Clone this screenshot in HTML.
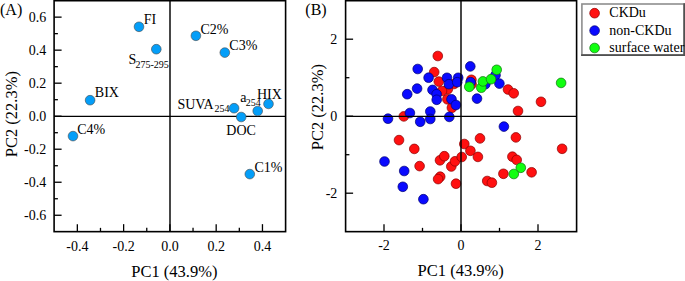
<!DOCTYPE html>
<html><head><meta charset="utf-8"><style>
html,body{margin:0;padding:0;background:#fff;width:685px;height:281px;overflow:hidden}
svg{display:block}
text{font-family:"Liberation Serif", serif;fill:#000}
</style></head><body>
<svg width="685" height="281" viewBox="0 0 685 281">
<rect x="54.1" y="0.7" width="231.50" height="230.95" fill="none" stroke="#000" stroke-width="1.6"/>
<line x1="54.10" y1="116.45" x2="285.60" y2="116.45" stroke="#000" stroke-width="1.3"/>
<line x1="170.00" y1="0.70" x2="170.00" y2="231.65" stroke="#000" stroke-width="1.45"/>
<line x1="54.10" y1="215.26" x2="61.60" y2="215.26" stroke="#000" stroke-width="1.3"/>
<line x1="54.10" y1="198.75" x2="57.90" y2="198.75" stroke="#000" stroke-width="1.3"/>
<line x1="54.10" y1="182.24" x2="61.60" y2="182.24" stroke="#000" stroke-width="1.3"/>
<line x1="54.10" y1="165.73" x2="57.90" y2="165.73" stroke="#000" stroke-width="1.3"/>
<line x1="54.10" y1="149.22" x2="61.60" y2="149.22" stroke="#000" stroke-width="1.3"/>
<line x1="54.10" y1="132.71" x2="57.90" y2="132.71" stroke="#000" stroke-width="1.3"/>
<line x1="54.10" y1="116.20" x2="61.60" y2="116.20" stroke="#000" stroke-width="1.3"/>
<line x1="54.10" y1="99.69" x2="57.90" y2="99.69" stroke="#000" stroke-width="1.3"/>
<line x1="54.10" y1="83.18" x2="61.60" y2="83.18" stroke="#000" stroke-width="1.3"/>
<line x1="54.10" y1="66.67" x2="57.90" y2="66.67" stroke="#000" stroke-width="1.3"/>
<line x1="54.10" y1="50.16" x2="61.60" y2="50.16" stroke="#000" stroke-width="1.3"/>
<line x1="54.10" y1="33.65" x2="57.90" y2="33.65" stroke="#000" stroke-width="1.3"/>
<line x1="54.10" y1="17.14" x2="61.60" y2="17.14" stroke="#000" stroke-width="1.3"/>
<line x1="77.34" y1="231.65" x2="77.34" y2="224.15" stroke="#000" stroke-width="1.3"/>
<line x1="100.48" y1="231.65" x2="100.48" y2="227.85" stroke="#000" stroke-width="1.3"/>
<line x1="123.62" y1="231.65" x2="123.62" y2="224.15" stroke="#000" stroke-width="1.3"/>
<line x1="146.76" y1="231.65" x2="146.76" y2="227.85" stroke="#000" stroke-width="1.3"/>
<line x1="169.90" y1="231.65" x2="169.90" y2="224.15" stroke="#000" stroke-width="1.3"/>
<line x1="193.04" y1="231.65" x2="193.04" y2="227.85" stroke="#000" stroke-width="1.3"/>
<line x1="216.18" y1="231.65" x2="216.18" y2="224.15" stroke="#000" stroke-width="1.3"/>
<line x1="239.32" y1="231.65" x2="239.32" y2="227.85" stroke="#000" stroke-width="1.3"/>
<line x1="262.46" y1="231.65" x2="262.46" y2="224.15" stroke="#000" stroke-width="1.3"/>
<text x="46.20" y="21.74" font-size="14" text-anchor="end" >0.6</text>
<text x="46.20" y="54.76" font-size="14" text-anchor="end" >0.4</text>
<text x="46.20" y="87.78" font-size="14" text-anchor="end" >0.2</text>
<text x="46.20" y="120.80" font-size="14" text-anchor="end" >0.0</text>
<text x="46.20" y="153.82" font-size="14" text-anchor="end" >-0.2</text>
<text x="46.20" y="186.84" font-size="14" text-anchor="end" >-0.4</text>
<text x="46.20" y="219.86" font-size="14" text-anchor="end" >-0.6</text>
<text x="77.34" y="250.80" font-size="14" text-anchor="middle" >-0.4</text>
<text x="123.62" y="250.80" font-size="14" text-anchor="middle" >-0.2</text>
<text x="169.90" y="250.80" font-size="14" text-anchor="middle" >0.0</text>
<text x="216.18" y="250.80" font-size="14" text-anchor="middle" >0.2</text>
<text x="262.46" y="250.80" font-size="14" text-anchor="middle" >0.4</text>
<circle cx="139.0" cy="26.8" r="4.85" fill="#049ef8" stroke="#4a4a4a" stroke-width="0.6"/>
<circle cx="156.3" cy="49.2" r="4.85" fill="#049ef8" stroke="#4a4a4a" stroke-width="0.6"/>
<circle cx="195.9" cy="35.8" r="4.85" fill="#049ef8" stroke="#4a4a4a" stroke-width="0.6"/>
<circle cx="224.8" cy="52.6" r="4.85" fill="#049ef8" stroke="#4a4a4a" stroke-width="0.6"/>
<circle cx="90.1" cy="100.2" r="4.85" fill="#049ef8" stroke="#4a4a4a" stroke-width="0.6"/>
<circle cx="73.0" cy="136.1" r="4.85" fill="#049ef8" stroke="#4a4a4a" stroke-width="0.6"/>
<circle cx="234.1" cy="108.2" r="4.85" fill="#049ef8" stroke="#4a4a4a" stroke-width="0.6"/>
<circle cx="241.2" cy="117.0" r="4.85" fill="#049ef8" stroke="#4a4a4a" stroke-width="0.6"/>
<circle cx="257.7" cy="111.0" r="4.85" fill="#049ef8" stroke="#4a4a4a" stroke-width="0.6"/>
<circle cx="268.5" cy="103.9" r="4.85" fill="#049ef8" stroke="#4a4a4a" stroke-width="0.6"/>
<circle cx="249.8" cy="174.1" r="4.85" fill="#049ef8" stroke="#4a4a4a" stroke-width="0.6"/>
<text x="143.80" y="24.20" font-size="14" text-anchor="start" >FI</text>
<text x="128.40" y="64.00" font-size="14" text-anchor="start" >S</text>
<text x="135.40" y="68.00" font-size="10" text-anchor="start" >275-295</text>
<text x="200.40" y="33.50" font-size="14" text-anchor="start" >C2%</text>
<text x="229.30" y="50.10" font-size="14" text-anchor="start" >C3%</text>
<text x="94.80" y="97.30" font-size="14" text-anchor="start" >BIX</text>
<text x="77.20" y="134.20" font-size="14" text-anchor="start" >C4%</text>
<text x="177.40" y="108.70" font-size="14" text-anchor="start" >SUVA</text>
<text x="214.40" y="111.80" font-size="10" text-anchor="start" >254</text>
<text x="240.20" y="102.00" font-size="14" text-anchor="start" >a</text>
<text x="245.80" y="106.00" font-size="10" text-anchor="start" >254</text>
<text x="257.00" y="98.50" font-size="14" text-anchor="start" >HIX</text>
<text x="226.30" y="135.40" font-size="14" text-anchor="start" >DOC</text>
<text x="254.40" y="171.90" font-size="14" text-anchor="start" >C1%</text>
<text x="0.00" y="14.90" font-size="16" text-anchor="start" >(A)</text>
<text x="174.40" y="277.20" font-size="16.5" text-anchor="middle" >PC1 (43.9%)</text>
<text x="0" y="0" font-size="16.5" text-anchor="middle" transform="translate(16.8,114.2) rotate(-90)">PC2 (22.3%)</text>
<circle cx="437.8" cy="56.0" r="4.85" fill="#ff1010" stroke="#8a0000" stroke-width="0.7"/>
<circle cx="434.2" cy="72.1" r="4.85" fill="#ff1010" stroke="#8a0000" stroke-width="0.7"/>
<circle cx="438.8" cy="81.6" r="4.85" fill="#ff1010" stroke="#8a0000" stroke-width="0.7"/>
<circle cx="453.9" cy="84.0" r="4.85" fill="#ff1010" stroke="#8a0000" stroke-width="0.7"/>
<circle cx="447.8" cy="89.2" r="4.85" fill="#ff1010" stroke="#8a0000" stroke-width="0.7"/>
<circle cx="442" cy="91" r="4.85" fill="#ff1010" stroke="#8a0000" stroke-width="0.7"/>
<circle cx="447.4" cy="99.3" r="4.85" fill="#ff1010" stroke="#8a0000" stroke-width="0.7"/>
<circle cx="451.9" cy="107.8" r="4.85" fill="#ff1010" stroke="#8a0000" stroke-width="0.7"/>
<circle cx="471.4" cy="79.8" r="4.85" fill="#ff1010" stroke="#8a0000" stroke-width="0.7"/>
<circle cx="471.6" cy="84.3" r="4.85" fill="#ff1010" stroke="#8a0000" stroke-width="0.7"/>
<circle cx="403.8" cy="116.4" r="4.85" fill="#ff1010" stroke="#8a0000" stroke-width="0.7"/>
<circle cx="399.0" cy="140.1" r="4.85" fill="#ff1010" stroke="#8a0000" stroke-width="0.7"/>
<circle cx="414.3" cy="148.9" r="4.85" fill="#ff1010" stroke="#8a0000" stroke-width="0.7"/>
<circle cx="419.6" cy="166.1" r="4.85" fill="#ff1010" stroke="#8a0000" stroke-width="0.7"/>
<circle cx="440.0" cy="160.3" r="4.85" fill="#ff1010" stroke="#8a0000" stroke-width="0.7"/>
<circle cx="444.3" cy="156.2" r="4.85" fill="#ff1010" stroke="#8a0000" stroke-width="0.7"/>
<circle cx="451.3" cy="166.5" r="4.85" fill="#ff1010" stroke="#8a0000" stroke-width="0.7"/>
<circle cx="455.0" cy="161.3" r="4.85" fill="#ff1010" stroke="#8a0000" stroke-width="0.7"/>
<circle cx="440.2" cy="176.7" r="4.85" fill="#ff1010" stroke="#8a0000" stroke-width="0.7"/>
<circle cx="438.1" cy="179.1" r="4.85" fill="#ff1010" stroke="#8a0000" stroke-width="0.7"/>
<circle cx="456" cy="183.7" r="4.85" fill="#ff1010" stroke="#8a0000" stroke-width="0.7"/>
<circle cx="464.3" cy="144.0" r="4.85" fill="#ff1010" stroke="#8a0000" stroke-width="0.7"/>
<circle cx="470.4" cy="150.8" r="4.85" fill="#ff1010" stroke="#8a0000" stroke-width="0.7"/>
<circle cx="461.7" cy="157" r="4.85" fill="#ff1010" stroke="#8a0000" stroke-width="0.7"/>
<circle cx="477.9" cy="156.9" r="4.85" fill="#ff1010" stroke="#8a0000" stroke-width="0.7"/>
<circle cx="480.0" cy="138.4" r="4.85" fill="#ff1010" stroke="#8a0000" stroke-width="0.7"/>
<circle cx="487.2" cy="181" r="4.85" fill="#ff1010" stroke="#8a0000" stroke-width="0.7"/>
<circle cx="491.9" cy="182.7" r="4.85" fill="#ff1010" stroke="#8a0000" stroke-width="0.7"/>
<circle cx="503.4" cy="173.8" r="4.85" fill="#ff1010" stroke="#8a0000" stroke-width="0.7"/>
<circle cx="512.4" cy="156.7" r="4.85" fill="#ff1010" stroke="#8a0000" stroke-width="0.7"/>
<circle cx="516.7" cy="159.9" r="4.85" fill="#ff1010" stroke="#8a0000" stroke-width="0.7"/>
<circle cx="531.6" cy="172.3" r="4.85" fill="#ff1010" stroke="#8a0000" stroke-width="0.7"/>
<circle cx="515.9" cy="137.4" r="4.85" fill="#ff1010" stroke="#8a0000" stroke-width="0.7"/>
<circle cx="562.1" cy="148.8" r="4.85" fill="#ff1010" stroke="#8a0000" stroke-width="0.7"/>
<circle cx="541.0" cy="101.8" r="4.85" fill="#ff1010" stroke="#8a0000" stroke-width="0.7"/>
<circle cx="518" cy="111" r="4.85" fill="#ff1010" stroke="#8a0000" stroke-width="0.7"/>
<circle cx="508" cy="89.5" r="4.85" fill="#ff1010" stroke="#8a0000" stroke-width="0.7"/>
<circle cx="513.7" cy="93.3" r="4.85" fill="#ff1010" stroke="#8a0000" stroke-width="0.7"/>
<circle cx="470.3" cy="66.4" r="4.85" fill="#0a0aff" stroke="#000070" stroke-width="0.7"/>
<circle cx="417.7" cy="69.0" r="4.85" fill="#0a0aff" stroke="#000070" stroke-width="0.7"/>
<circle cx="428.6" cy="77.7" r="4.85" fill="#0a0aff" stroke="#000070" stroke-width="0.7"/>
<circle cx="447.0" cy="77.8" r="4.85" fill="#0a0aff" stroke="#000070" stroke-width="0.7"/>
<circle cx="458.2" cy="77.8" r="4.85" fill="#0a0aff" stroke="#000070" stroke-width="0.7"/>
<circle cx="448.9" cy="84.2" r="4.85" fill="#0a0aff" stroke="#000070" stroke-width="0.7"/>
<circle cx="457.2" cy="82.2" r="4.85" fill="#0a0aff" stroke="#000070" stroke-width="0.7"/>
<circle cx="417.1" cy="88.6" r="4.85" fill="#0a0aff" stroke="#000070" stroke-width="0.7"/>
<circle cx="407.2" cy="94.2" r="4.85" fill="#0a0aff" stroke="#000070" stroke-width="0.7"/>
<circle cx="432.5" cy="89.9" r="4.85" fill="#0a0aff" stroke="#000070" stroke-width="0.7"/>
<circle cx="436.6" cy="94.2" r="4.85" fill="#0a0aff" stroke="#000070" stroke-width="0.7"/>
<circle cx="436.7" cy="99.8" r="4.85" fill="#0a0aff" stroke="#000070" stroke-width="0.7"/>
<circle cx="451.5" cy="99.3" r="4.85" fill="#0a0aff" stroke="#000070" stroke-width="0.7"/>
<circle cx="455.9" cy="105" r="4.85" fill="#0a0aff" stroke="#000070" stroke-width="0.7"/>
<circle cx="409.9" cy="113.0" r="4.85" fill="#0a0aff" stroke="#000070" stroke-width="0.7"/>
<circle cx="388.0" cy="118.7" r="4.85" fill="#0a0aff" stroke="#000070" stroke-width="0.7"/>
<circle cx="420.2" cy="121.8" r="4.85" fill="#0a0aff" stroke="#000070" stroke-width="0.7"/>
<circle cx="430.3" cy="111.5" r="4.85" fill="#0a0aff" stroke="#000070" stroke-width="0.7"/>
<circle cx="430.3" cy="119" r="4.85" fill="#0a0aff" stroke="#000070" stroke-width="0.7"/>
<circle cx="449.3" cy="116.9" r="4.85" fill="#0a0aff" stroke="#000070" stroke-width="0.7"/>
<circle cx="470.6" cy="82.2" r="4.85" fill="#0a0aff" stroke="#000070" stroke-width="0.7"/>
<circle cx="477.0" cy="98.6" r="4.85" fill="#0a0aff" stroke="#000070" stroke-width="0.7"/>
<circle cx="485.3" cy="84.2" r="4.85" fill="#0a0aff" stroke="#000070" stroke-width="0.7"/>
<circle cx="495.5" cy="75.2" r="4.85" fill="#0a0aff" stroke="#000070" stroke-width="0.7"/>
<circle cx="499.4" cy="83.6" r="4.85" fill="#0a0aff" stroke="#000070" stroke-width="0.7"/>
<circle cx="503.9" cy="126.6" r="4.85" fill="#0a0aff" stroke="#000070" stroke-width="0.7"/>
<circle cx="384.5" cy="161.5" r="4.85" fill="#0a0aff" stroke="#000070" stroke-width="0.7"/>
<circle cx="404.2" cy="171" r="4.85" fill="#0a0aff" stroke="#000070" stroke-width="0.7"/>
<circle cx="402.8" cy="186.8" r="4.85" fill="#0a0aff" stroke="#000070" stroke-width="0.7"/>
<circle cx="423.4" cy="199.2" r="4.85" fill="#0a0aff" stroke="#000070" stroke-width="0.7"/>
<circle cx="469.3" cy="86.8" r="4.85" fill="#10ff10" stroke="#107010" stroke-width="0.7"/>
<circle cx="481.3" cy="87.7" r="4.85" fill="#10ff10" stroke="#107010" stroke-width="0.7"/>
<circle cx="482.9" cy="81.4" r="4.85" fill="#10ff10" stroke="#107010" stroke-width="0.7"/>
<circle cx="491" cy="79.2" r="4.85" fill="#10ff10" stroke="#107010" stroke-width="0.7"/>
<circle cx="496.7" cy="69.8" r="4.85" fill="#10ff10" stroke="#107010" stroke-width="0.7"/>
<circle cx="561.1" cy="82.9" r="4.85" fill="#10ff10" stroke="#107010" stroke-width="0.7"/>
<circle cx="520.8" cy="167.8" r="4.85" fill="#10ff10" stroke="#107010" stroke-width="0.7"/>
<circle cx="513.8" cy="174.0" r="4.85" fill="#10ff10" stroke="#107010" stroke-width="0.7"/>
<rect x="345.6" y="0.7" width="231.00" height="230.95" fill="none" stroke="#000" stroke-width="1.6"/>
<line x1="345.60" y1="116.45" x2="576.60" y2="116.45" stroke="#000" stroke-width="1.3"/>
<line x1="461.00" y1="0.70" x2="461.00" y2="231.65" stroke="#000" stroke-width="1.45"/>
<line x1="345.60" y1="193.20" x2="353.10" y2="193.20" stroke="#000" stroke-width="1.3"/>
<line x1="345.60" y1="154.70" x2="349.40" y2="154.70" stroke="#000" stroke-width="1.3"/>
<line x1="345.60" y1="116.20" x2="353.10" y2="116.20" stroke="#000" stroke-width="1.3"/>
<line x1="345.60" y1="77.70" x2="349.40" y2="77.70" stroke="#000" stroke-width="1.3"/>
<line x1="345.60" y1="39.20" x2="353.10" y2="39.20" stroke="#000" stroke-width="1.3"/>
<line x1="384.00" y1="231.65" x2="384.00" y2="224.15" stroke="#000" stroke-width="1.3"/>
<line x1="422.50" y1="231.65" x2="422.50" y2="227.85" stroke="#000" stroke-width="1.3"/>
<line x1="461.00" y1="231.65" x2="461.00" y2="224.15" stroke="#000" stroke-width="1.3"/>
<line x1="499.50" y1="231.65" x2="499.50" y2="227.85" stroke="#000" stroke-width="1.3"/>
<line x1="538.00" y1="231.65" x2="538.00" y2="224.15" stroke="#000" stroke-width="1.3"/>
<text x="337.30" y="43.80" font-size="14" text-anchor="end" >2</text>
<text x="337.30" y="120.80" font-size="14" text-anchor="end" >0</text>
<text x="337.30" y="197.80" font-size="14" text-anchor="end" >-2</text>
<text x="384.00" y="250.30" font-size="14" text-anchor="middle" >-2</text>
<text x="461.00" y="250.30" font-size="14" text-anchor="middle" >0</text>
<text x="538.00" y="250.30" font-size="14" text-anchor="middle" >2</text>
<text x="305.30" y="15.00" font-size="16" text-anchor="start" >(B)</text>
<text x="460.70" y="275.80" font-size="16.5" text-anchor="middle" >PC1 (43.9%)</text>
<text x="0" y="0" font-size="16.5" text-anchor="middle" transform="translate(322.8,107.2) rotate(-90)">PC2 (22.3%)</text>
<rect x="581.9" y="4.0" width="102.2" height="51.1" fill="#fff" stroke="#8e8e8e" stroke-width="1.6"/>
<line x1="581.10" y1="55.10" x2="685.00" y2="55.10" stroke="#505050" stroke-width="1.6"/>
<line x1="684.20" y1="3.20" x2="684.20" y2="55.90" stroke="#505050" stroke-width="1.6"/>
<circle cx="594.6" cy="13.2" r="4.85" fill="#ff1010" stroke="#8a0000" stroke-width="0.7"/>
<text x="609.30" y="17.20" font-size="14" text-anchor="start" >CKDu</text>
<circle cx="594.6" cy="30.599999999999998" r="4.85" fill="#0a0aff" stroke="#000070" stroke-width="0.7"/>
<text x="609.30" y="34.60" font-size="14" text-anchor="start" >non-CKDu</text>
<circle cx="594.6" cy="48.0" r="4.85" fill="#10ff10" stroke="#107010" stroke-width="0.7"/>
<text x="609.30" y="52.00" font-size="14" text-anchor="start" >surface water</text>
</svg>
</body></html>
